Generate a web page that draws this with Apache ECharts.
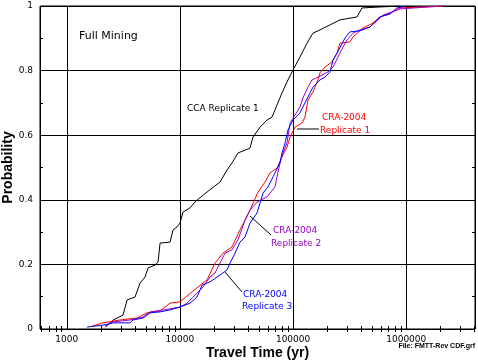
<!DOCTYPE html>
<html><head><meta charset="utf-8">
<script src="https://cdn.jsdelivr.net/npm/echarts@6/dist/echarts.min.js"></script>
<style>html,body{margin:0;padding:0;background:#fff}#c{width:478px;height:362px}</style>
</head><body><div id="c"></div>
<script>
// axis range (years) and tick values
const xMin = 580, xMax = 4050000;
const xMinorTicks = [600,700,800,900,2000,3000,4000,5000,6000,7000,8000,9000,
  20000,30000,40000,50000,60000,70000,80000,90000,
  200000,300000,400000,500000,600000,700000,800000,900000,2000000,3000000,4000000];
const yMinorTicks = [0.1,0.3,0.5,0.7,0.9];

// [travel time (yr), cumulative probability]
const ccaRep1 = [[2200,0.006],[2570,0.028],[3140,0.043],[3410,0.09],[4010,0.099],[4440,0.142],[4920,0.161],
  [5230,0.189],[6030,0.198],[6410,0.207],[6670,0.266],[8180,0.269],[8690,0.307],[9430,0.316],[10020,0.328],
  [10640,0.362],[12270,0.375],[13590,0.393],[14160,0.399],[17350,0.424],[22600,0.455],[26060,0.492],
  [28840,0.514],[32600,0.545],[41600,0.56],[44220,0.594],[51030,0.625],[58790,0.647],[65100,0.656],
  [79800,0.731],[90100,0.771],[99800,0.802],[115000,0.842],[132700,0.885],[149900,0.916],[172900,0.926],
  [259500,0.957],[367000,0.966],[406000,0.994],[586000,0.997],[880000,1.0]];
const craRep1 = [[1676,0.009],[2092,0.019],[2957,0.028],[4178,0.034],[5117,0.05],[6670,0.056],[8180,0.08],
  [10020,0.084],[11800,0.105],[14460,0.13],[17350,0.152],[20400,0.204],[24030,0.235],[28840,0.254],
  [33960,0.307],[37600,0.337],[41600,0.368],[48980,0.424],[56480,0.455],[62520,0.483],[72110,0.498],
  [79800,0.533],[88310,0.563],[93940,0.594],[104000,0.625],[120000,0.638],[127400,0.656],[135500,0.709],
  [149900,0.734],[166000,0.771],[172900,0.793],[191400,0.811],[220600,0.827],[244400,0.854],[259500,0.885],
  [318200,0.889],[338000,0.904],[415000,0.932],[508000,0.947],[586000,0.966],[748000,0.981],[880000,0.994],
  [2113000,1.0]];
const craRep2 = [[2183,0.009],[2565,0.022],[3625,0.028],[4720,0.037],[5440,0.053],[7096,0.059],[10020,0.068],
  [11560,0.08],[13060,0.099],[16000,0.13],[18450,0.161],[20400,0.173],[25020,0.235],[28840,0.245],
  [32600,0.276],[37600,0.337],[41600,0.368],[47980,0.393],[58790,0.409],[69180,0.44],[72110,0.471],
  [76560,0.514],[81470,0.545],[88310,0.576],[93940,0.638],[115000,0.687],[123000,0.718],[135500,0.749],
  [146900,0.771],[172900,0.783],[203500,0.796],[225300,0.811],[249300,0.842],[276000,0.873],[299600,0.895],
  [338000,0.916],[389700,0.926],[477500,0.935],[562300,0.957],[622300,0.972],[748000,0.981],[880000,0.991],
  [2113000,1.0]];
const craRep3 = [[1513,0.006],[2092,0.012],[2565,0.019],[3625,0.019],[3853,0.028],[4720,0.034],[5440,0.05],
  [6670,0.053],[8180,0.059],[10020,0.068],[12270,0.08],[14160,0.099],[15680,0.136],[18450,0.146],
  [22600,0.167],[26060,0.183],[27720,0.204],[30690,0.235],[33960,0.269],[37600,0.285],[41600,0.328],
  [47980,0.359],[51030,0.39],[54240,0.421],[60000,0.44],[66500,0.471],[76560,0.514],[79800,0.545],
  [84900,0.576],[90100,0.616],[99800,0.647],[115000,0.669],[127400,0.7],[141200,0.731],[149900,0.749],
  [172900,0.771],[191400,0.78],[211900,0.796],[225300,0.833],[244400,0.854],[287800,0.901],[318200,0.92],
  [389700,0.923],[477500,0.935],[586000,0.966],[718000,0.975],[826000,0.994],[916000,0.997],[1000000,1.0]];

const seriesNames = ['CCA Replicate 1','CRA-2004 Replicate 1','CRA-2004 Replicate 2','CRA-2004 Replicate 3'];
const seriesData = [ccaRep1, craRep1, craRep2, craRep3];
const seriesColors = ['#000000','#ff0000','#9900cc','#0000ff'];

const chart = echarts.init(document.getElementById('c'), null, {renderer:'canvas'});
const tickFont = {fontFamily:'DejaVu Sans', fontSize:9, color:'#000'};
const isPow10 = v => Math.abs(Math.log10(v) - Math.round(Math.log10(v))) < 1e-6;

const option = {
  animation: false,
  backgroundColor: '#fff',
  grid: {left:40, top:6, right:3, bottom:33, show:true, borderColor:'#000', borderWidth:1,
         containLabel:false, outerBoundsMode:'none'},
  xAxis: [
    {type:'log', logBase:10, min:xMin, max:xMax, position:'bottom',
     axisLine:{show:false}, axisTick:{show:false},
     splitLine:{show:true, lineStyle:{color:'#000', width:1}},
     axisLabel:Object.assign({margin:6, showMinLabel:false, showMaxLabel:false,
       formatter: v => isPow10(v) ? String(Math.round(v)) : ''}, tickFont),
     name:'Travel Time (yr)', nameLocation:'middle', nameGap:17, nameMoveOverlap:false,
     nameTextStyle:{fontFamily:'Liberation Sans', fontWeight:'bold', fontSize:14, color:'#000'}},
    {type:'log', logBase:10, min:xMin, max:xMax, position:'bottom',
     axisLine:{show:false}, splitLine:{show:false}, axisLabel:{show:false},
     axisTick:{show:true, inside:true, length:3, customValues:xMinorTicks, lineStyle:{color:'#000'}}},
    {type:'log', logBase:10, min:xMin, max:xMax, position:'top',
     axisLine:{show:false}, splitLine:{show:false}, axisLabel:{show:false},
     axisTick:{show:true, inside:true, length:3, customValues:xMinorTicks, lineStyle:{color:'#000'}}}
  ],
  yAxis: [
    {type:'value', min:0, max:1, interval:0.2, position:'left',
     axisLine:{show:false}, axisTick:{show:false},
     splitLine:{show:true, lineStyle:{color:'#000', width:1}},
     axisLabel:Object.assign({margin:7}, tickFont),
     name:'Probability', nameLocation:'middle', nameGap:25, nameMoveOverlap:false,
     nameTextStyle:{fontFamily:'Liberation Sans', fontWeight:'bold', fontSize:14, color:'#000'}},
    {type:'value', min:0, max:1, position:'left',
     axisLine:{show:false}, splitLine:{show:false}, axisLabel:{show:false},
     axisTick:{show:true, inside:true, length:3, customValues:yMinorTicks, lineStyle:{color:'#000'}}},
    {type:'value', min:0, max:1, position:'right',
     axisLine:{show:false}, splitLine:{show:false}, axisLabel:{show:false},
     axisTick:{show:true, inside:true, length:3, customValues:yMinorTicks, lineStyle:{color:'#000'}}}
  ],
  series: seriesData.map((d, i) => ({
    type:'line', name:seriesNames[i], data:d, xAxisIndex:0, yAxisIndex:0,
    showSymbol:false, symbol:'none', lineStyle:{color:seriesColors[i], width:1}, itemStyle:{color:seriesColors[i]},
    z: 3 + i
  })),
  graphic: [
    {type:'text', x:79, y:36, style:{text:'Full Mining', font:'11px "DejaVu Sans"', fill:'#000', textVerticalAlign:'middle'}},
    {type:'text', x:187, y:109, style:{text:'CCA Replicate 1', font:'9px "DejaVu Sans"', fill:'#000', textVerticalAlign:'middle'}},
    {type:'line', shape:{x1:297, y1:129, x2:319, y2:129}, style:{stroke:'#000', lineWidth:1}},
    {type:'text', x:322, y:118, style:{text:'CRA-2004', font:'9px "DejaVu Sans"', fill:'#ff0000', textVerticalAlign:'middle'}},
    {type:'text', x:320, y:131, style:{text:'Replicate 1', font:'9px "DejaVu Sans"', fill:'#ff0000', textVerticalAlign:'middle'}},
    {type:'line', shape:{x1:250, y1:216, x2:271, y2:235}, style:{stroke:'#000', lineWidth:1}},
    {type:'text', x:273, y:231, style:{text:'CRA-2004', font:'9px "DejaVu Sans"', fill:'#9900cc', textVerticalAlign:'middle'}},
    {type:'text', x:271, y:244, style:{text:'Replicate 2', font:'9px "DejaVu Sans"', fill:'#9900cc', textVerticalAlign:'middle'}},
    {type:'line', shape:{x1:225, y1:272, x2:242, y2:292}, style:{stroke:'#000', lineWidth:1}},
    {type:'text', x:243, y:295, style:{text:'CRA-2004', font:'9px "DejaVu Sans"', fill:'#0000ff', textVerticalAlign:'middle'}},
    {type:'text', x:242, y:307, style:{text:'Replicate 3', font:'9px "DejaVu Sans"', fill:'#0000ff', textVerticalAlign:'middle'}},
    {type:'text', x:475, y:346, style:{text:'File: FMTT-Rev CDF.grf', font:'bold 7px "Liberation Sans"', fill:'#000', textAlign:'right', textVerticalAlign:'middle'}}
  ]
};
chart.setOption(option);
</script>
</body></html>
